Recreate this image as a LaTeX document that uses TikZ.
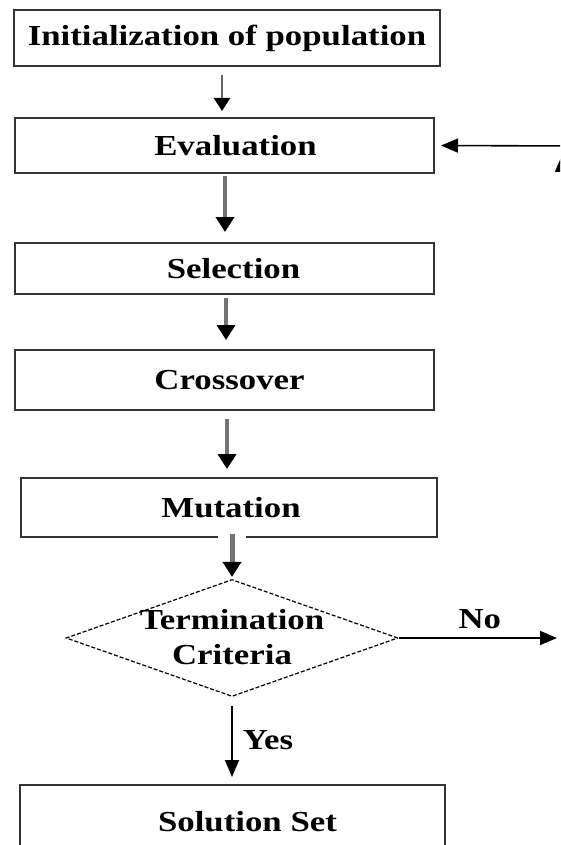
\documentclass[tikz,border=0pt]{standalone}
\usepackage{fontspec}
\setmainfont{Liberation Serif}[FakeStretch=1.2]
\usetikzlibrary{arrows.meta,shapes.geometric}

\tikzset{
  stage/.style={draw=black!80, line width=2pt, rectangle, inner sep=0pt,
    font=\fontsize{29}{35}\selectfont\bfseries},
  decide/.style={draw=black, line width=1.2pt, dash pattern=on 4pt off 2pt,
    diamond, inner sep=0pt, minimum width=332pt, minimum height=117pt},
  lbl/.style={inner sep=0pt, font=\fontsize{29}{35}\selectfont\bfseries},
  flow/.style={draw=black!55, line width=4pt,
    -{Triangle[width=18pt,length=15pt,color=black]}},
  thinflow/.style={draw=black!60, line width=2.5pt,
    -{Triangle[width=16pt,length=13pt,color=black]}},
  loopflow/.style={draw=black, line width=1.6pt,
    -{Triangle[width=14pt,length=17pt]}}
}

\begin{document}
\begin{tikzpicture}[x=1pt,y=-1pt]
  \useasboundingbox (0,0) rectangle (560,845);
  \clip (0,0) rectangle (560,845);
  \draw
    (227,38) node[stage,minimum width=426pt,minimum height=56pt] (init){Initialization of population}
    (224.5,145.5) node[stage,minimum width=419pt,minimum height=55pt] (eval){\hspace*{22pt}Evaluation}
    (224.5,268.5) node[stage,minimum width=419pt,minimum height=51pt] (sel){\hspace*{18pt}Selection}
    (224.5,380) node[stage,minimum width=419pt,minimum height=60pt] (cross){\hspace*{10pt}Crossover}
    (229,507.5) node[stage,minimum width=416pt,minimum height=59pt] (mut){\hspace*{4pt}Mutation}
    (232,638) node[decide] (term){}
    (232.5,822) node[stage,minimum width=425pt,minimum height=74pt] (sol){\hspace*{30pt}Solution Set};
  \node[lbl,align=center] (termtext) at (232,637) {Termination\\Criteria};

  % loop back to evaluation (runs off the right edge)
  \coordinate (noend) at (557,638);
  \coordinate (backr) at (575,146);
  \coordinate (loopb) at (562,700);
  \coordinate (loopt) at (562,155);

  \begin{scope}
    \draw[thinflow,shorten <=8pt,shorten >=6pt] ([xshift=-5pt]init.south) -- ([xshift=-2.5pt]eval.north);
    \draw[flow,shorten <=2pt,shorten >=10pt] ([xshift=0.5pt]eval.south) -- ([xshift=0.5pt]sel.north);
    \draw[flow,shorten <=3pt,shorten >=9pt] ([xshift=1.5pt]sel.south) -- ([xshift=1.5pt]cross.north);
    \draw[flow,shorten <=8pt,shorten >=8pt] ([xshift=2.5pt]cross.south) -- ([xshift=-2pt]mut.north);
    \draw[flow,line width=5pt,shorten <=-4pt,shorten >=2pt,
      preaction={draw=white,line width=28pt,-}] ([xshift=3pt]mut.south) -- (term.north);
    \draw[loopflow] (term.east) -- (noend) node[lbl,midway,above=8pt,xshift=2pt] (no){No};
    \draw[loopflow,shorten <=9pt,shorten >=7pt] (term.south) -- ([xshift=-0.5pt]sol.north)
      node[lbl,midway,right=10pt] (yes){Yes};
    \draw[loopflow,shorten >=6pt] (backr) -- (eval.east);
    \draw[loopflow] (loopb) -- (loopt);
  \end{scope}
\end{tikzpicture}
\end{document}
